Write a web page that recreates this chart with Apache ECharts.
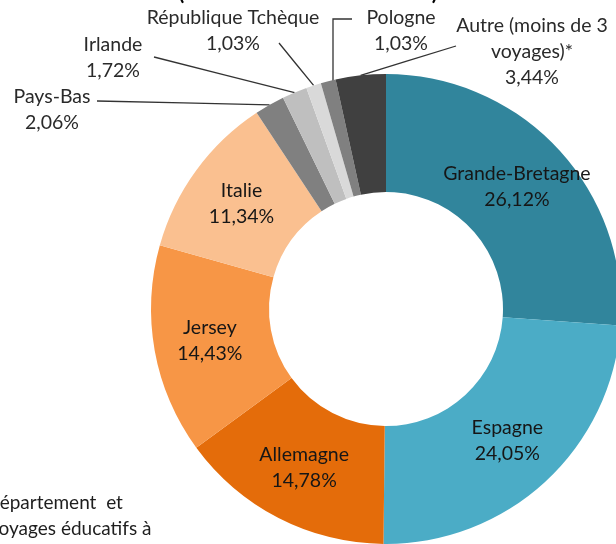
<!DOCTYPE html>
<html>
<head>
<meta charset="utf-8">
<script src="https://cdn.jsdelivr.net/npm/echarts@6/dist/echarts.min.js"></script>
<style>
html,body{margin:0;padding:0;background:#fff;}
#chart{width:616px;height:544px;}
</style>
</head>
<body>
<div id="chart"></div>
<script>
// Data (percentages, clockwise from top)
const categories = ['Grande-Bretagne', 'Espagne', 'Allemagne', 'Jersey', 'Italie', 'Pays-Bas', 'Irlande', 'République Tchèque', 'Pologne', 'Autre (moins de 3 voyages)*'];
const values = [26.12, 24.05, 14.78, 14.43, 11.34, 2.06, 1.72, 1.03, 1.03, 3.44];
const titleText = '(Année scolaire 2017-2018)';
const footnoteLines = ['département  et', 'voyages éducatifs à'];

// Styles
const colors = ['#31859c', '#4bacc6', '#e46c0a', '#f79646', '#fac090', '#808080', '#bfbfbf', '#d9d9d9', '#808080', '#404040'];
const outsideIdx = [5, 6, 7, 8, 9];
// label block centre and leader-line end (pixel layout of the text callouts)
const outsideLayout = {
  5: {x: 52, y: 110, line: [[97, 101]]},
  6: {x: 113, y: 58, line: [[154, 57]]},
  7: {x: 233, y: 31, line: [[279, 43]]},
  8: {x: 401, y: 31, line: [[333, 19], [352, 19]], vertical: 333},
  9: {x: 532, y: 52, line: [[456, 46]]}
};

function fmtPct(v) { return v.toFixed(2).replace('.', ',') + '%'; }

const data = categories.map((name, i) => {
  const item = {name: name, value: values[i], itemStyle: {color: colors[i]}};
  if (outsideIdx.indexOf(i) >= 0) {
    item.label = {position: 'outside', color: '#2a2a2a'};
    item.labelLine = {show: true};
  }
  return item;
});

const chart = echarts.init(document.getElementById('chart'), null, {renderer: 'canvas'});
chart.setOption({
  animation: false,
  graphic: [
    {type: 'text', left: 'center', top: -17, z: 10,
      style: {text: titleText, font: 'bold 21px Lato', fill: '#000'}},
    {type: 'text', left: -11, top: 490,
      style: {text: footnoteLines.join('\n'), font: '19px Lato', lineHeight: 26, fill: '#1e1e1e'}}
  ],
  series: [{
    type: 'pie',
    center: [386, 309],
    radius: [117, 235],
    startAngle: 90,
    clockwise: true,
    avoidLabelOverlap: false,
    data: data,
    itemStyle: {borderWidth: 0},
    emphasis: {disabled: true},
    label: {
      show: true,
      position: 'inside',
      fontFamily: 'Lato',
      fontSize: 19.5,
      lineHeight: 26,
      color: '#161616',
      align: 'center',
      formatter: function (p) {
        return p.name.replace(' voyages', '\nvoyages') + '\n' + fmtPct(p.value);
      }
    },
    labelLine: {lineStyle: {color: '#333', width: 1.3}, smooth: false},
    labelLayout: function (p) {
      const lay = outsideLayout[p.dataIndex];
      if (!lay) return {};
      let start = p.labelLinePoints ? p.labelLinePoints[0] : null;
      const pts = [];
      if (start) {
        if (lay.vertical != null) start = [lay.vertical, start[1] + 4];
        pts.push(start);
      }
      lay.line.forEach(pt => pts.push(pt));
      if (pts.length === 2) pts.splice(1, 0, [(pts[0][0] + pts[1][0]) / 2, (pts[0][1] + pts[1][1]) / 2]);
      return {x: lay.x, y: lay.y, align: 'center', verticalAlign: 'middle', labelLinePoints: pts};
    }
  }]
});
</script>
</body>
</html>
